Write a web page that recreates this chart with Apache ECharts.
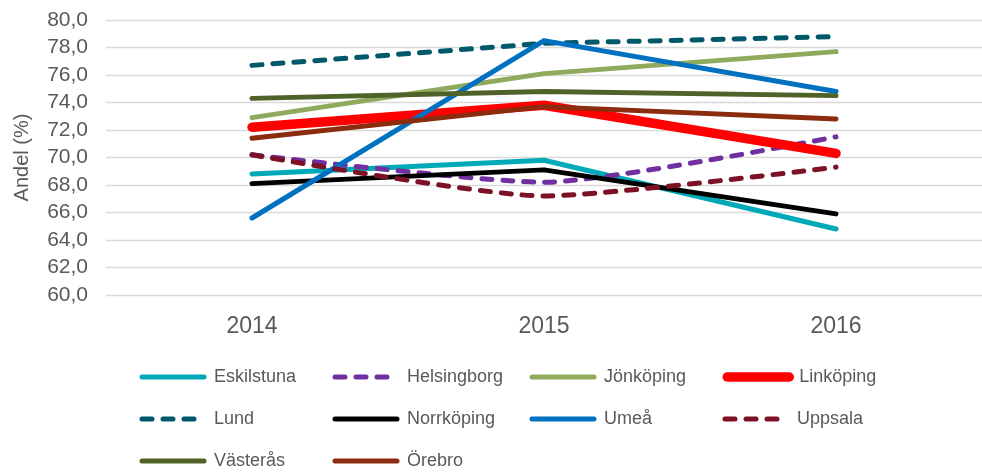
<!DOCTYPE html>
<html>
<head>
<meta charset="utf-8">
<script src="https://cdn.jsdelivr.net/npm/echarts@6/dist/echarts.min.js"></script>
<style>
* { margin: 0; padding: 0; }
body { background: #fff; }
</style>
</head>
<body>
<div id="chart" style="width: 982px;height: 472px;"></div>
<script>
// data
const years = ['2014', '2015', '2016']
const cities = ['Eskilstuna', 'Helsingborg', 'Jönköping', 'Linköping', 'Lund',
    'Norrköping', 'Umeå', 'Uppsala', 'Västerås', 'Örebro']
const eskilstuna = [68.8, 69.8, 64.8]
const helsingborg = [70.2, 68.2, 71.5]
const jonkoping = [72.9, 76.1, 77.7]
const linkoping = [72.2, 73.8, 70.3]
const lund = [76.7, 78.3, 78.8]
const norrkoping = [68.1, 69.1, 65.9]
const umea = [65.6, 78.5, 74.8]
const uppsala = [70.2, 67.2, 69.3]
const vasteras = [74.3, 74.8, 74.5]
const orebro = [71.4, 73.7, 72.8]
const values = [eskilstuna, helsingborg, jonkoping, linkoping, lund,
    norrkoping, umea, uppsala, vasteras, orebro]

const colors = ['#00A9B7', '#7030A0', '#8FAA5C', '#FF0000', '#00586B',
    '#000000', '#0070C0', '#7D1125', '#4F6228', '#8B2C0E']
const dashed = [false, true, false, false, true, false, false, true, false, false]
const textColor = '#595959'

const chart = echarts.init(document.getElementById('chart'))

const series = cities.map((name, i) => ({
    name: name,
    type: 'line',
    data: values[i],
    symbol: 'none',
    smooth: (name === 'Helsingborg' || name === 'Uppsala') ? 0.2 : false,
    color: colors[i],
    lineStyle: {
        color: colors[i],
        width: name === 'Linköping' ? 9.5 : 5,
        type: dashed[i] ? [10, 11] : 'solid',
        cap: 'round',
        join: 'round'
    }
}))

// one legend per item so the columns line up like the original
const colX = [137, 330, 527, 720]
const rowY = [376, 418, 460]
const legends = cities.map((name, i) => ({
    data: [name],
    left: colX[i % 4] + 2.5,
    top: rowY[Math.floor(i / 4)] - 8,
    padding: 0,
    itemWidth: 62,
    itemHeight: 16,
    selectedMode: false,
    itemStyle: { opacity: 0 },
    lineStyle: { width: 'inherit', cap: 'round' },
    textStyle: {
        color: textColor,
        fontSize: 18,
        fontFamily: 'Liberation Sans, Arial, sans-serif',
        padding: [0, 0, 0, 5]
    }
}))

chart.setOption({
    animation: false,
    grid: {
        left: 106,
        right: -10,
        top: 20,
        height: 275
    },
    legend: legends,
    xAxis: {
        type: 'category',
        data: years,
        boundaryGap: true,
        axisLine: { show: false },
        axisTick: { show: false },
        axisLabel: {
            color: textColor,
            fontSize: 23,
            margin: 20,
            fontFamily: 'Liberation Sans, Arial, sans-serif'
        }
    },
    yAxis: {
        type: 'value',
        min: 60,
        max: 80,
        interval: 2,
        name: 'Andel (%)',
        nameLocation: 'middle',
        nameGap: 74,
        nameRotate: 90,
        nameTextStyle: {
            color: textColor,
            fontSize: 20,
            fontFamily: 'Liberation Sans, Arial, sans-serif'
        },
        axisLine: { show: false },
        axisTick: { show: false },
        splitLine: { lineStyle: { color: '#D9D9D9', width: 1.3 } },
        axisLabel: {
            color: textColor,
            fontSize: 21,
            margin: 18,
            fontFamily: 'Liberation Sans, Arial, sans-serif',
            formatter: v => v.toFixed(1).replace('.', ',')
        }
    },
    series: series
})
</script>
</body>
</html>
